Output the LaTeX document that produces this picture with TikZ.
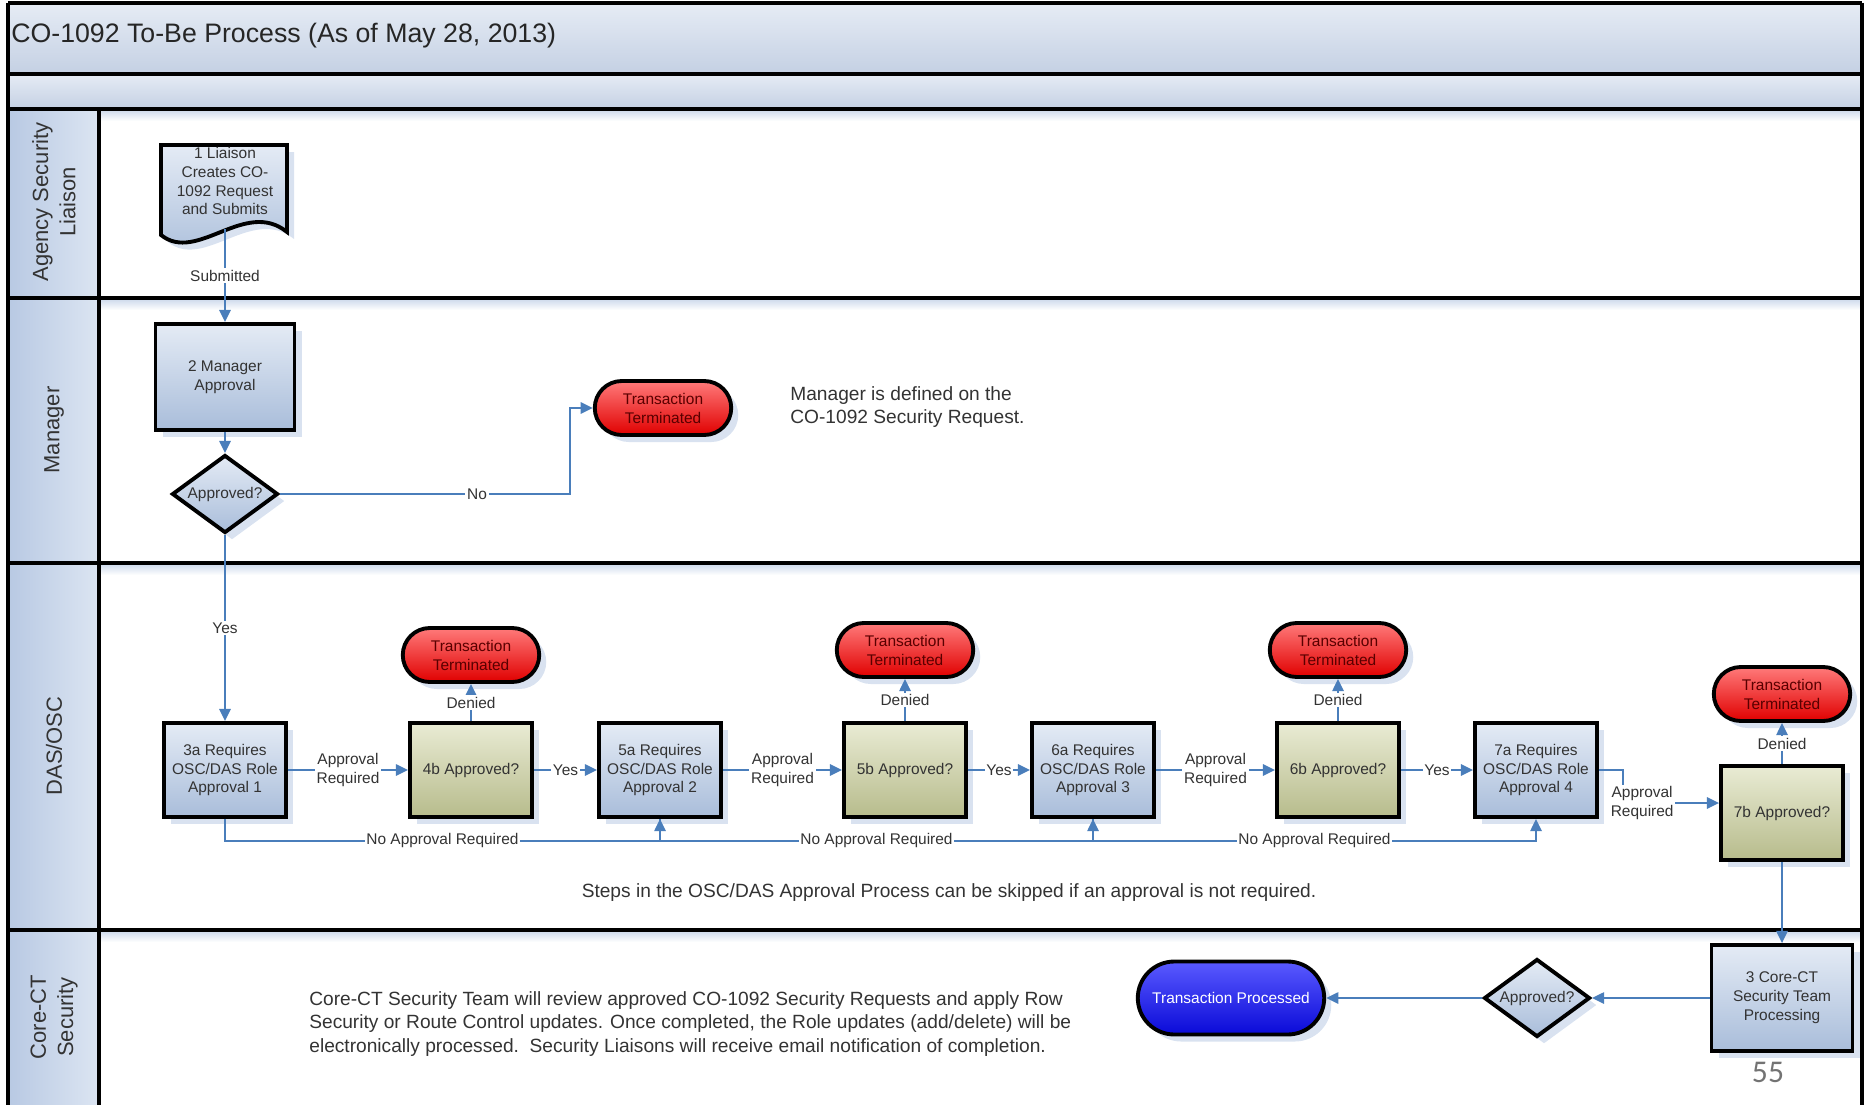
\documentclass[tikz,border=0pt]{standalone}
\usepackage{fontspec}
\setmainfont{Liberation Sans}
\newfontfamily\pagefont{Carlito}
\usepackage{tikz}
\usetikzlibrary{shapes.geometric,shapes.misc,arrows.meta,shadows}
\definecolor{flowblue}{HTML}{4A7EBB}
\definecolor{boxlight}{HTML}{E4EBF5}
\definecolor{boxdark}{HTML}{A9BDDA}
\definecolor{greenlight}{HTML}{E9EBD4}
\definecolor{greendark}{HTML}{B7BC8C}
\definecolor{redlight}{HTML}{FF7A7A}
\definecolor{reddark}{HTML}{E00000}
\definecolor{bluelight}{HTML}{5A5AFF}
\definecolor{bluedark}{HTML}{0A0AD8}
\definecolor{bandlight}{HTML}{E6ECF5}
\definecolor{banddark}{HTML}{C4D0E3}
\definecolor{headlight}{HTML}{DCE5F2}
\definecolor{headdark}{HTML}{B8C9E3}
\definecolor{shadowblue}{HTML}{C9D6EA}
\definecolor{textgray}{HTML}{333333}
\tikzstyle{laneline}=[line width=2.4pt, color=black]
\tikzstyle{boxtext}=[font=\fontsize{8.8}{10.8}\selectfont, align=center, text=textgray]
\tikzstyle{shadowed}=[drop shadow={shadow xshift=4pt, shadow yshift=-4pt, fill=shadowblue, opacity=0.7}]
\tikzstyle{procbox}=[rectangle, draw, line width=2.2pt, boxtext, shadowed, top color=boxlight, bottom color=boxdark, minimum width=2.44cm, minimum height=1.88cm, inner sep=1pt]
\tikzstyle{checkbox}=[procbox, top color=greenlight, bottom color=greendark]
\tikzstyle{stopcap}=[rounded rectangle, draw, line width=2.2pt, boxtext, text=red!35!black, shadowed, top color=redlight, bottom color=reddark, minimum width=2.8cm, minimum height=1.08cm, inner sep=1pt]
\tikzstyle{donecap}=[stopcap, top color=bluelight, bottom color=bluedark, text=white, minimum width=3.8cm, minimum height=1.46cm]
\tikzstyle{decision}=[diamond, aspect=1.36, draw, line width=2.2pt, boxtext, shadowed, top color=boxlight, bottom color=boxdark, minimum width=2.12cm, minimum height=1.56cm, inner sep=0pt]
\tikzstyle{flow}=[draw=flowblue, line width=1.1pt, -{Triangle[length=7pt,width=6.5pt]}]
\tikzstyle{flowlbl}=[boxtext, fill=white, inner sep=1pt]
\tikzstyle{notetext}=[font=\fontsize{10.9}{13.4}\selectfont, align=left, text=textgray, inner sep=0pt]
\tikzstyle{lanehead}=[font=\fontsize{12.5}{15.5}\selectfont, align=center, text=textgray, rotate=90]

\begin{document}
\begin{tikzpicture}[x=0.02cm, y=-0.02cm]
    \useasboundingbox (0,0) rectangle (1866,1105);
    % title and header bands
    \shade[top color=bandlight, bottom color=banddark] (8,3) rectangle (1862,74);
    \shade[top color=bandlight, bottom color=banddark] (8,74) rectangle (1862,109);
    \shade[left color=headdark, right color=headlight] (8,109) rectangle (99,1105);
    % faint shadow under each lane border
    \foreach \y in {109,298,563,930}{
      \shade[top color=shadowblue, bottom color=white] (99,\y) rectangle (1862,\y+12);
    }
    % lane borders
    \foreach \y in {3,74,109,298,563,930}{
      \draw[laneline] (8,\y) -- (1862,\y);
    }
    \draw[laneline] (8,3) -- (8,1105);
    \draw[laneline] (1862,3) -- (1862,1105);
    \draw[laneline] (99,109) -- (99,1105);

    \node[anchor=west, inner sep=0pt, font=\fontsize{15.2}{18}\selectfont, text=black!85] (title) at (11,36) {CO-1092 To-Be Process (As of May 28, 2013)};

    % lane names
    \foreach \y/\txt/\nm in {202/{Agency Security\\Liaison}/liaisonlane, 430/{Manager}/managerlane, 746/{DAS/OSC}/daslane, 1017/{Core-CT\\Security}/corelane}{
      \node[lanehead] (\nm) at (54,\y) {\txt};
    }

    % liaison document
    \draw[line width=2.2pt, shadowed, top color=boxlight, bottom color=boxdark] (161,145) -- (287,145) -- (287,232) .. controls (245,198) and (197,264) .. (161,235) -- cycle;
    \node[boxtext] (liaison) at (225,181) {1 Liaison\\Creates CO-\\1092 Request\\and Submits};
    \coordinate (docwave) at (225,229);

    % manager lane
    \node[procbox, minimum width=2.78cm, minimum height=2.12cm] (mgr) at (225,377) {2 Manager\\Approval};
    \node[decision] (mgrdec) at (225,494) {Approved?};
    \node[stopcap] (stopmgr) at (663,408) {Transaction\\Terminated};
    \node[notetext, anchor=west] (mgrnote) at (790,407) {Manager is defined on the\\CO-1092 Security Request.};

    \draw[flow] (docwave) -- node[flowlbl] {Submitted} (mgr);
    \draw[flow] (mgr) -- (mgrdec);
    \draw[flow] (mgrdec.east) -- node[flowlbl, pos=0.68] {No} ++(290,0) |- (stopmgr.west);

    % DAS/OSC lane
    \foreach \n/\x/\k in {3a/225/1, 5a/660/2, 6a/1093/3, 7a/1536/4}{
      \node[procbox] (req\n) at (\x,770) {\n{} Requires\\OSC/DAS Role\\Approval \k};
    }
    \foreach \n/\x/\t in {4b/471/655, 5b/905/650, 6b/1338/650}{
      \node[checkbox] (chk\n) at (\x,770) {\n{} Approved?};
      \node[stopcap] (stop\n) at (\x,\t) {Transaction\\Terminated};
      \draw[flow] (chk\n.north) -- node[flowlbl] {Denied} (stop\n.south);
    }
    \node[checkbox] (chk7b) at (1782,813) {7b Approved?};
    \node[stopcap] (stop7b) at (1782,694) {Transaction\\Terminated};
    \draw[flow] (chk7b.north) -- node[flowlbl] {Denied} (stop7b.south);

    \draw[flow] (mgrdec) -- node[flowlbl] {Yes} (req3a);
    \foreach \a/\b in {3a/4b, 5a/5b, 6a/6b}{
      \draw[flow] (req\a) -- node[flowlbl] {Approval\\Required} (chk\b);
    }
    \foreach \b/\a in {4b/5a, 5b/6a, 6b/7a}{
      \draw[flow] (chk\b) -- node[flowlbl] {Yes} (req\a);
    }
    \foreach \a/\b in {3a/5a, 5a/6a, 6a/7a}{
      \draw[flow] (req\a.south) -- ++(0,22) -| node[flowlbl, pos=0.25] {No Approval Required} (req\b.south);
    }
    \draw[flow] (req7a.east) -- ++(24,0) |- node[flowlbl, pos=0.6] {Approval\\Required} ([yshift=0.2cm]chk7b.west);

    \node[notetext] (stepsnote) at (949,893) {Steps in the OSC/DAS Approval Process can be skipped if an approval is not required.};

    % Core-CT lane
    \node[procbox, minimum width=2.82cm, minimum height=2.12cm] (coreteam) at (1782,998) {3 Core-CT\\Security Team\\Processing};
    \node[decision] (coredec) at (1537,998) {Approved?};
    \node[donecap] (processed) at (1231,998) {Transaction Processed};
    \draw[flow] (chk7b) -- (coreteam);
    \draw[flow] (coreteam) -- (coredec);
    \draw[flow] (coredec) -- (processed);

    \node[notetext, anchor=west] (corenote) at (309,1024) {Core-CT Security Team will review approved CO-1092 Security Requests and apply Row\\Security or Route Control updates. Once completed, the Role updates (add/delete) will be\\electronically processed.\ \ Security Liaisons will receive email notification of completion.};

    \node[font=\pagefont\fontsize{18}{18}\selectfont, text=black!55] (pagenum) at (1768,1072) {55};
\end{tikzpicture}
\end{document}
